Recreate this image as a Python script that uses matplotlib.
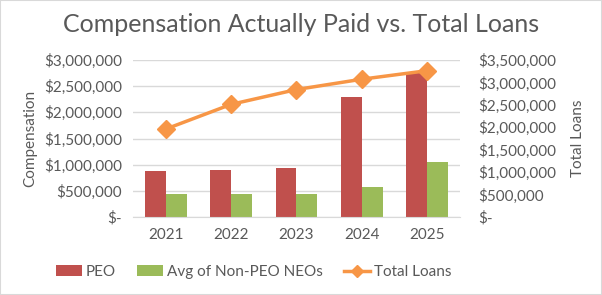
import matplotlib.pyplot as plt
import matplotlib.ticker as mticker
from matplotlib.patches import Rectangle
import numpy as np

years = ['2021', '2022', '2023', '2024', '2025']
peo = [880000, 900000, 940000, 2300000, 2750000]
non_peo = [440000, 440000, 440000, 580000, 1060000]
total_loans = [1960000, 2510000, 2840000, 3070000, 3260000]

plt.rcParams['font.family'] = ['Lato', 'DejaVu Sans']
grey = '#595959'

def money(v, pos):
    if v == 0:
        return '$-'
    return f'${v:,.0f}'

fig = plt.figure(figsize=(6.02, 2.95), dpi=100)
ax = fig.add_axes([0.221, 0.264, 0.543, 0.533])
x = np.arange(len(years))
w = 0.32

ax.bar(x - w / 2, peo, w, color='#C0504D', label='PEO', zorder=2)
ax.bar(x + w / 2, non_peo, w, color='#9BBB59', label='Avg of Non-PEO NEOs', zorder=2)
ax.set_ylim(0, 3000000)
ax.set_yticks(np.arange(0, 3000001, 500000))
ax.yaxis.set_major_formatter(mticker.FuncFormatter(money))
ax.set_xlim(-0.5, 4.5)
ax.set_xticks(x)
ax.set_xticklabels(years)
ax.grid(axis='y', color='#D9D9D9', linewidth=1, zorder=0)
ax.set_ylabel('Compensation', fontsize=11, color=grey, labelpad=5)

ax2 = ax.twinx()
ax2.plot(x, total_loans, color='#F79646', linewidth=2.5, marker='D', markersize=9,
         label='Total Loans', zorder=3)
ax2.set_ylim(0, 3500000)
ax2.set_yticks(np.arange(0, 3500001, 500000))
ax2.yaxis.set_major_formatter(mticker.FuncFormatter(money))
ax2.set_ylabel('Total Loans', fontsize=11, color=grey, labelpad=11)

for a in (ax, ax2):
    for s in a.spines.values():
        s.set_visible(False)
    a.tick_params(length=0, labelsize=11, colors=grey, pad=8)
ax2.tick_params(pad=13)
ax.spines['bottom'].set_visible(True)
ax.spines['bottom'].set_color('#D9D9D9')

fig.suptitle('Compensation Actually Paid vs. Total Loans', fontsize=18, color=grey, y=0.955)

h1, l1 = ax.get_legend_handles_labels()
h2, l2 = ax2.get_legend_handles_labels()
fig.legend(h1 + h2, l1 + l2, loc='center', bbox_to_anchor=(0.421, 0.078), ncol=3,
           frameon=False, fontsize=11, labelcolor=grey, handlelength=1.7,
           columnspacing=1.4, handletextpad=0.25, markerscale=0.7)

fig.patches.append(Rectangle((0, 0), 1, 1, transform=fig.transFigure, fill=False,
                             edgecolor='#D9D9D9', linewidth=1.5))

fig.savefig('out.png', dpi=100)
